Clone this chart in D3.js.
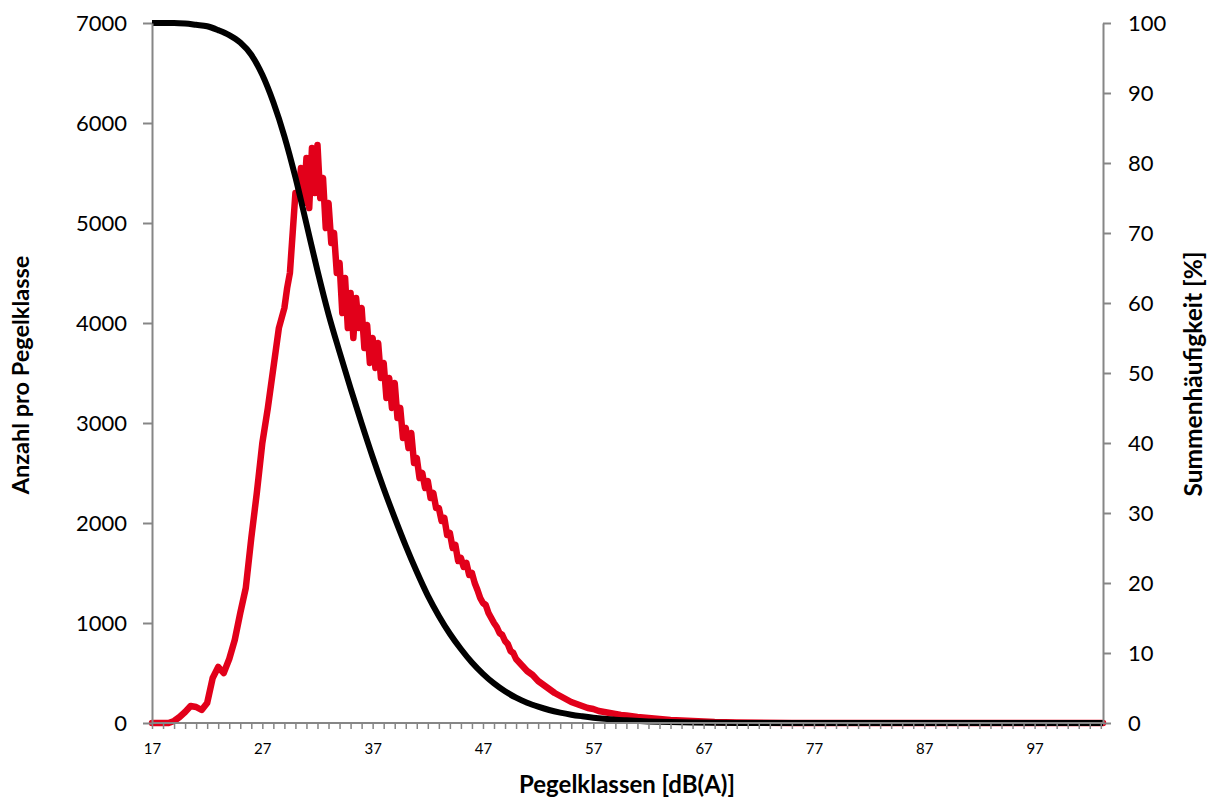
<!DOCTYPE html>
<html>
<head>
<meta charset="utf-8">
<script src="https://cdn.jsdelivr.net/npm/d3@7"></script>
<style>
  html, body { margin: 0; padding: 0; background: #fff; }
  svg { display: block; font-family: Lato, "Open Sans", sans-serif; }
</style>
</head>
<body>
<svg id="chart" width="1213" height="801"></svg>
<script>
// ---- data ----
const levels = [
  17,17.5,18,18.5,19,19.5,20,20.5,21,21.5,22,22.5,23,23.5,24,24.5,25,25.5,26,26.5,27,27.5,28,28.5,
  29,29.25,29.5,29.75,30,30.25,30.5,30.75,31,31.25,31.5,31.75,32,32.25,32.5,32.75,
  33,33.25,33.5,33.75,34,34.25,34.5,34.75,35,35.25,35.5,35.75,36,36.25,36.5,36.75,
  37,37.25,37.5,37.75,38,38.25,38.5,38.75,39,39.25,39.5,39.75,40,40.25,40.5,40.75,
  41,41.25,41.5,41.75,42,42.25,42.5,42.75,43,43.25,43.5,43.75,44,44.25,44.5,44.75,
  45,45.25,45.5,45.75,46,46.25,46.5,46.75,47,47.25,47.5,47.75,48,48.25,48.5,48.75,
  49,49.25,49.5,49.75,50,
  50.5,51,51.5,52,52.5,53,53.5,54,54.5,55,55.5,56,56.5,57,57.5,58,58.5,59,59.5,60,
  61,62,63,64,66,68,70,75,80,90,103.2
];
const counts = [
  0,0,0,0,20,60,110,170,160,130,200,450,560,500,640,830,1100,1350,1850,2300,2800,3150,3550,3950,
  4150,4350,4500,4900,5300,5250,5550,5200,5650,5150,5750,5300,5780,5250,5450,4950,
  5200,4800,4900,4500,4600,4100,4450,3950,4300,3850,4250,3950,4150,3750,3980,3600,
  3850,3550,3800,3450,3600,3250,3450,3150,3400,3050,3150,2850,2950,2750,2900,2600,
  2650,2450,2500,2350,2420,2250,2300,2150,2150,2020,2050,1880,1900,1750,1780,1620,
  1650,1560,1600,1480,1500,1400,1330,1250,1200,1180,1100,1050,1000,960,900,880,
  820,790,720,700,640,
  580,520,480,420,380,340,300,270,240,210,190,170,150,140,120,110,100,90,80,75,
  60,50,40,30,20,10,5,0,0,0,0
];
const cumLevels = [17,19,20,21,22,23,24,25,26,27,28,29,30,31,32,33,34,35,36,37,38,39,40,41,42,43,44,45,46,47,48,49,50,51,52,53,54,55,56,57,58,59,60,62,64,66,70,80,103.2];
const cumPercent = [100,100,99.92,99.74,99.54,98.98,98.27,97.21,95.46,92.6,88.67,83.81,77.95,71.3,64.6,58.4,53.0,47.8,42.8,38.0,33.5,29.3,25.3,21.6,18.2,15.3,12.75,10.57,8.64,7.02,5.65,4.53,3.62,2.9,2.34,1.86,1.49,1.19,0.96,0.76,0.6,0.47,0.38,0.23,0.13,0.07,0.01,0,0];
const xTickLabels = [17,27,37,47,57,67,77,87,97];
const xMinorTicks = [17,18,19,20,21,22,23,24,25,26,27,28,29,30,31,32,33,34,35,36,37,38,39,40,41,42,43,44,45,46,47,48,49,50,51,52,53,54,55,56,57,58,59,60,61,62,63,64,65,66,67,68,69,70,71,72,73,74,75,76,77,78,79,80,81,82,83,84,85,86,87,88,89,90,91,92,93,94,95,96,97,98,99,100,101,102,103];
const leftTicks = [0,1000,2000,3000,4000,5000,6000,7000];
const rightTicks = [0,10,20,30,40,50,60,70,80,90,100];

// ---- layout ----
const svg = d3.select("#chart");
const L = 152, R = 1103, T = 23, B = 723;
const x = d3.scaleLinear().domain([17, 103.2]).range([L, R]);
const yL = d3.scaleLinear().domain([0, 7000]).range([B, T]);
const yR = d3.scaleLinear().domain([0, 100]).range([B, T]);
const axisColor = "#868686";

// lines
const redLine = d3.line().x((d,i) => x(levels[i])).y(d => yL(d)).curve(d3.curveLinear);
svg.append("path").attr("d", redLine(counts))
  .attr("fill","none").attr("stroke","#e2001a").attr("stroke-width",6.5)
  .attr("stroke-linejoin","round").attr("stroke-linecap","round");

const blackLine = d3.line().x((d,i) => x(cumLevels[i])).y(d => yR(d)).curve(d3.curveMonotoneX);
svg.append("path").attr("d", blackLine(cumPercent))
  .attr("fill","none").attr("stroke","#000").attr("stroke-width",6)
  .attr("stroke-linejoin","round").attr("stroke-linecap","butt");

// axes
function styleAxis(g) {
  g.select(".domain").attr("stroke", axisColor).attr("stroke-width", 2);
  g.selectAll(".tick line").attr("stroke", axisColor).attr("stroke-width", 2);
  g.selectAll(".tick text").attr("fill", "#000");
}
const gL = svg.append("g").attr("transform", `translate(${L},0)`)
  .call(d3.axisLeft(yL).tickValues(leftTicks).tickSize(9).tickSizeOuter(0).tickPadding(16).tickFormat(d3.format("d")));
styleAxis(gL);
gL.selectAll(".tick text").attr("font-size", 22).attr("font-family", "Lato, sans-serif");

const gR = svg.append("g").attr("transform", `translate(${R},0)`)
  .call(d3.axisRight(yR).tickValues(rightTicks).tickSize(8).tickSizeOuter(0).tickPadding(17).tickFormat(d3.format("d")));
styleAxis(gR);
gR.selectAll(".tick text").attr("font-size", 22).attr("font-family", "Lato, sans-serif");

const gB = svg.append("g").attr("transform", `translate(0,${B})`)
  .call(d3.axisBottom(x).tickValues(xMinorTicks).tickSize(6).tickSizeOuter(0).tickPadding(14)
    .tickFormat(d => xTickLabels.includes(d) ? String(d) : ""));
styleAxis(gB);
gB.selectAll(".tick line").attr("stroke-width", 1.5);
gB.selectAll(".tick text").attr("font-size", 15).attr("font-family", "Lato, sans-serif");
gB.select(".domain").attr("d", `M${L},0H${R}`);

// titles
svg.append("text").attr("transform", `translate(29,375) rotate(-90)`)
  .attr("text-anchor","middle").attr("font-weight","bold").attr("font-size",23.5)
  .text("Anzahl pro Pegelklasse");
svg.append("text").attr("transform", `translate(1202,374) rotate(-90)`)
  .attr("text-anchor","middle").attr("font-weight","bold").attr("font-size",24.5)
  .text("Summenhäufigkeit [%]");
svg.append("text").attr("x", 627).attr("y", 793)
  .attr("text-anchor","middle").attr("font-weight","bold").attr("font-size",24)
  .text("Pegelklassen [dB(A)]");
</script>
</body>
</html>
